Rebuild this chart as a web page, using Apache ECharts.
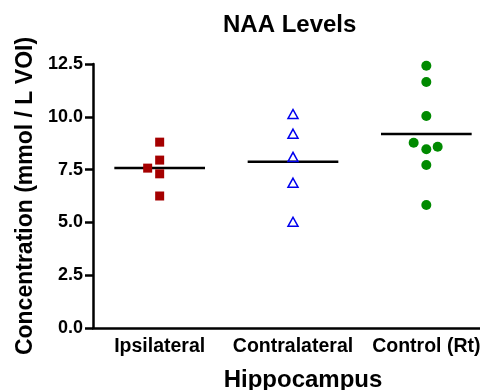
<!DOCTYPE html>
<html>
<head>
<meta charset="utf-8">
<script src="https://cdn.jsdelivr.net/npm/echarts@6/dist/echarts.min.js"></script>
<style>
  html, body { margin: 0; padding: 0; background: #fff; }
  #chart { width: 480px; height: 390px; }
</style>
</head>
<body>
<div id="chart"></div>
<script>
// groups on the x axis
const groups = ['Ipsilateral', 'Contralateral', 'Control (Rt)']
const yTicks = [0, 2.5, 5, 7.5, 10, 12.5]

// NAA concentration per subject (mmol / L VOI)
const ipsiValues = [8.8, 7.95, 7.57, 7.3, 6.25]
const contraValues = [10.13, 9.2, 8.1, 6.88, 5.03]
const controlValues = [12.42, 11.65, 10.04, 8.77, 8.46, 8.58, 7.72, 5.82]

// sideways spread of overlapping points, in category units
const ipsiSpread = [0, 0, -0.09, 0, 0]
const contraSpread = [0, 0, 0, 0, 0]
const controlSpread = [0, 0, 0, -0.095, 0, 0.085, 0, 0]

const font = 'Liberation Sans, Arial, sans-serif'

const mean = (arr) => arr.reduce((s, v) => s + v, 0) / arr.length

const points = (idx, values, spread) => values.map((v, i) => [idx + spread[i], v])
const meanLine = (idx, values) => {
  const m = mean(values)
  return [[idx - 0.34, m], [idx + 0.34, m]]
}

const chart = echarts.init(document.getElementById('chart'))

const lineSeries = (idx, values) => ({
  type: 'line',
  xAxisIndex: 1,
  data: meanLine(idx, values),
  showSymbol: false,
  symbol: 'none',
  lineStyle: { color: '#000', width: 2.5 },
  z: 2,
  silent: true,
})

chart.setOption({
  animation: false,
  backgroundColor: '#fff',
  title: {
    text: 'NAA Levels',
    left: 218,
    top: 8,
    textStyle: { fontFamily: font, fontSize: 24, fontWeight: 'bold', color: '#000' },
  },
  grid: {
    left: 93,
    top: 64,
    width: 400,
    height: 264,
    containLabel: false,
    outerBoundsMode: 'none',
  },
  xAxis: [
    {
      type: 'category',
      data: groups,
      boundaryGap: true,
      name: 'Hippocampus',
      nameLocation: 'middle',
      nameGap: 40,
      nameTextStyle: {
        fontFamily: font, fontSize: 24, fontWeight: 'bold', color: '#000',
        padding: [0, 0, 0, 20],
      },
      axisLine: { onZero: false, lineStyle: { color: '#000', width: 2.5 } },
      axisTick: { alignWithLabel: true, length: 7, lineStyle: { color: '#000', width: 2.5 } },
      axisLabel: {
        interval: 0, margin: 9,
        fontFamily: font, fontSize: 19.5, fontWeight: 'bold', color: '#000',
      },
      splitLine: { show: false },
    },
    {
      type: 'value',
      min: -0.5,
      max: 2.5,
      show: false,
    },
  ],
  yAxis: {
    type: 'value',
    min: 0,
    max: 12.5,
    interval: 2.5,
    name: 'Concentration (mmol / L VOI)',
    nameLocation: 'middle',
    nameGap: 56,
    nameTextStyle: { fontFamily: font, fontSize: 23, fontWeight: 'bold', color: '#000' },
    axisLine: { show: true, onZero: false, lineStyle: { color: '#000', width: 2.5 } },
    axisTick: { show: true, length: 8, lineStyle: { color: '#000', width: 2.5 } },
    axisLabel: {
      margin: 10,
      fontFamily: font, fontSize: 18, fontWeight: 'bold', color: '#000',
      formatter: (v) => yTicks.includes(v) ? v.toFixed(1) : '',
    },
    splitLine: { show: false },
  },
  series: [
    lineSeries(0, ipsiValues),
    lineSeries(1, contraValues),
    lineSeries(2, controlValues),
    {
      name: 'Ipsilateral',
      type: 'scatter',
      xAxisIndex: 1,
      data: points(0, ipsiValues, ipsiSpread),
      symbol: 'rect',
      symbolSize: 9,
      itemStyle: { color: '#A50000', opacity: 1 },
      z: 3,
    },
    {
      name: 'Contralateral',
      type: 'scatter',
      xAxisIndex: 1,
      data: points(1, contraValues, contraSpread),
      symbol: 'triangle',
      symbolSize: [10, 9],
      itemStyle: { color: 'rgba(255,255,255,0)', borderColor: '#0000EE', borderWidth: 1.5, opacity: 1 },
      z: 3,
    },
    {
      name: 'Control (Rt)',
      type: 'scatter',
      xAxisIndex: 1,
      data: points(2, controlValues, controlSpread),
      symbol: 'circle',
      symbolSize: 10,
      itemStyle: { color: '#008A00', opacity: 1 },
      z: 3,
    },
  ],
})
</script>
</body>
</html>
